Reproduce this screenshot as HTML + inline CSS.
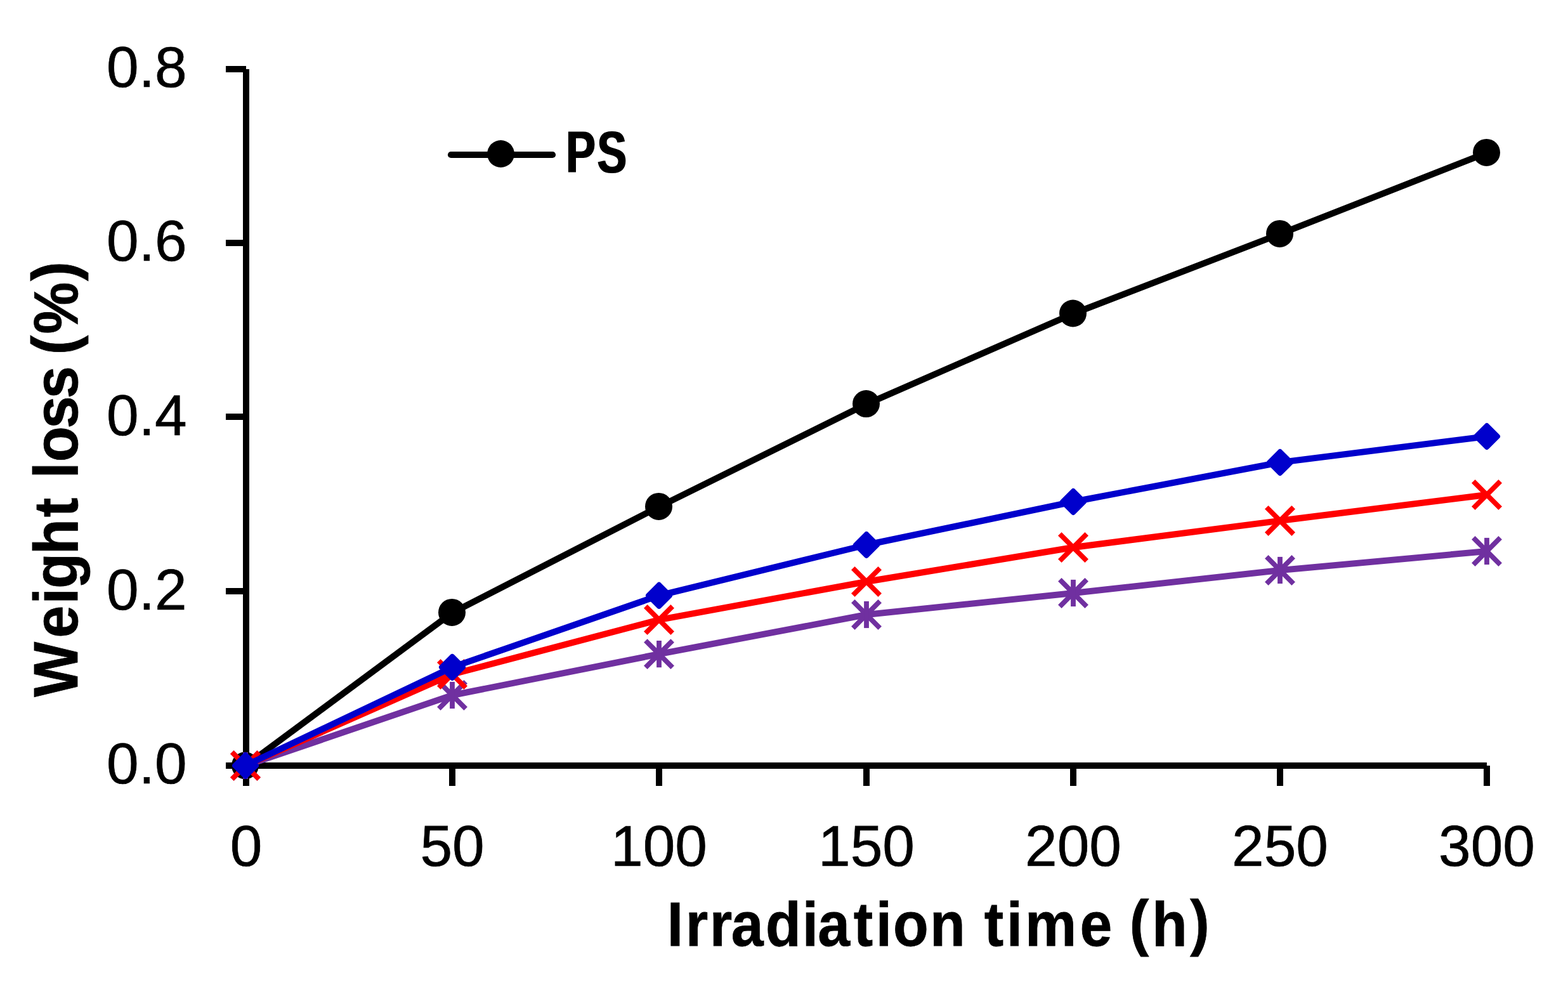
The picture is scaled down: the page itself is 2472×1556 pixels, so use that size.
<!DOCTYPE html>
<html lang="en">
<head>
<meta charset="utf-8">
<title>Weight loss vs irradiation time</title>
<style>
html,body{margin:0;padding:0;background:#fff;}
body{width:2472px;height:1556px;}
svg{display:block;}
text{font-family:"Liberation Sans",sans-serif;fill:#000;}
.tk{font-size:91px;stroke:#000;stroke-width:0.7px;}
.b{font-weight:bold;}
.ti{stroke:#000;stroke-width:0.8px;}
.ax line{stroke:#000;stroke-width:10;}
.s polyline{fill:none;stroke-width:10;stroke-linejoin:round;}
.x line{stroke-width:7.85;}
.a line{stroke-width:7.8;}
</style>
</head>
<body>
<svg width="2472" height="1556" viewBox="0 0 2472 1556" role="img" aria-label="Weight loss (%) versus irradiation time (h)">
<rect width="2472" height="1556" fill="#fff"/>
<filter id="fat" x="-10%" y="-10%" width="120%" height="120%" color-interpolation-filters="sRGB"><feMorphology operator="dilate" radius="1 0"/></filter>

<g class="ax">
<line x1="388" y1="109" x2="388" y2="1207"/>
<line x1="356" y1="1207" x2="2344" y2="1207"/>
<line x1="356" y1="109" x2="388" y2="109"/>
<line x1="356" y1="383" x2="388" y2="383"/>
<line x1="356" y1="657" x2="388" y2="657"/>
<line x1="356" y1="932" x2="388" y2="932"/>
<line x1="388" y1="1207" x2="388" y2="1239"/>
<line x1="713" y1="1207" x2="713" y2="1239"/>
<line x1="1039" y1="1207" x2="1039" y2="1239"/>
<line x1="1366" y1="1207" x2="1366" y2="1239"/>
<line x1="1692" y1="1207" x2="1692" y2="1239"/>
<line x1="2018" y1="1207" x2="2018" y2="1239"/>
<line x1="2344" y1="1207" x2="2344" y2="1239"/>
</g>
<g class="s" stroke="#000000" fill="#000000">
<polyline points="387,1207.3 713,965.95 1039,798.9 1366,637.1 1692,494.5 2018,368.9 2344,240.9"/>
<circle cx="386.5" cy="1206.8" r="21.5" stroke="none"/>
<circle cx="712.5" cy="965.45" r="21.5" stroke="none"/>
<circle cx="1038.5" cy="798.4" r="21.5" stroke="none"/>
<circle cx="1365.5" cy="636.6" r="21.5" stroke="none"/>
<circle cx="1691.5" cy="494" r="21.5" stroke="none"/>
<circle cx="2017.5" cy="368.4" r="21.5" stroke="none"/>
<circle cx="2343.5" cy="240.4" r="21.5" stroke="none"/>
</g>
<g class="s a" stroke="#7030a0" fill="#7030a0">
<polyline points="387,1207 713,1096 1039,1031.1 1366,969 1692,935 2018,899 2344,869"/>
<line x1="365.8" y1="1185.8" x2="408.2" y2="1228.2"/><line x1="365.8" y1="1228.2" x2="408.2" y2="1185.8"/><line x1="387" y1="1185.9" x2="387" y2="1228.1"/>
<line x1="691.8" y1="1074.8" x2="734.2" y2="1117.2"/><line x1="691.8" y1="1117.2" x2="734.2" y2="1074.8"/><line x1="713" y1="1074.9" x2="713" y2="1117.1"/>
<line x1="1017.8" y1="1009.9" x2="1060.2" y2="1052.3"/><line x1="1017.8" y1="1052.3" x2="1060.2" y2="1009.9"/><line x1="1039" y1="1010" x2="1039" y2="1052.2"/>
<line x1="1344.8" y1="947.8" x2="1387.2" y2="990.2"/><line x1="1344.8" y1="990.2" x2="1387.2" y2="947.8"/><line x1="1366" y1="947.9" x2="1366" y2="990.1"/>
<line x1="1670.8" y1="913.8" x2="1713.2" y2="956.2"/><line x1="1670.8" y1="956.2" x2="1713.2" y2="913.8"/><line x1="1692" y1="913.9" x2="1692" y2="956.1"/>
<line x1="1996.8" y1="877.8" x2="2039.2" y2="920.2"/><line x1="1996.8" y1="920.2" x2="2039.2" y2="877.8"/><line x1="2018" y1="877.9" x2="2018" y2="920.1"/>
<line x1="2322.8" y1="847.8" x2="2365.2" y2="890.2"/><line x1="2322.8" y1="890.2" x2="2365.2" y2="847.8"/><line x1="2344" y1="847.9" x2="2344" y2="890.1"/>
</g>
<g class="s x" stroke="#ff0000" fill="#ff0000">
<polyline points="387,1207 713,1063 1039,977.1 1366,917 1692,863 2018,820.9 2344,780"/>
<line x1="365.8" y1="1185.8" x2="408.2" y2="1228.2"/><line x1="365.8" y1="1228.2" x2="408.2" y2="1185.8"/>
<line x1="691.8" y1="1041.8" x2="734.2" y2="1084.2"/><line x1="691.8" y1="1084.2" x2="734.2" y2="1041.8"/>
<line x1="1017.8" y1="955.9" x2="1060.2" y2="998.3"/><line x1="1017.8" y1="998.3" x2="1060.2" y2="955.9"/>
<line x1="1344.8" y1="895.8" x2="1387.2" y2="938.2"/><line x1="1344.8" y1="938.2" x2="1387.2" y2="895.8"/>
<line x1="1670.8" y1="841.8" x2="1713.2" y2="884.2"/><line x1="1670.8" y1="884.2" x2="1713.2" y2="841.8"/>
<line x1="1996.8" y1="799.7" x2="2039.2" y2="842.1"/><line x1="1996.8" y1="842.1" x2="2039.2" y2="799.7"/>
<line x1="2322.8" y1="758.8" x2="2365.2" y2="801.2"/><line x1="2322.8" y1="801.2" x2="2365.2" y2="758.8"/>
</g>
<g class="s" stroke="#0000cc" fill="#0000cc">
<polyline points="387,1207 713,1051.9 1039,938.85 1366,859 1692,791 2018,729 2344,688"/>
<rect x="-16.02" y="-16.02" width="32.04" height="32.04" rx="4" stroke="none" transform="translate(387 1207) rotate(45)"/>
<rect x="-16.02" y="-16.02" width="32.04" height="32.04" rx="4" stroke="none" transform="translate(713 1051.9) rotate(45)"/>
<rect x="-16.02" y="-16.02" width="32.04" height="32.04" rx="4" stroke="none" transform="translate(1039 938.85) rotate(45)"/>
<rect x="-16.02" y="-16.02" width="32.04" height="32.04" rx="4" stroke="none" transform="translate(1366 859) rotate(45)"/>
<rect x="-16.02" y="-16.02" width="32.04" height="32.04" rx="4" stroke="none" transform="translate(1692 791) rotate(45)"/>
<rect x="-16.02" y="-16.02" width="32.04" height="32.04" rx="4" stroke="none" transform="translate(2018 729) rotate(45)"/>
<rect x="-16.02" y="-16.02" width="32.04" height="32.04" rx="4" stroke="none" transform="translate(2344 688) rotate(45)"/>
</g>
<line x1="711" y1="244" x2="871" y2="244" stroke="#000" stroke-width="10.2" stroke-linecap="round"/>
<circle cx="789.5" cy="242.5" r="21.4" fill="#000"/>
<text class="b" filter="url(#fat)" transform="translate(0,272) scale(0.76,1)" font-size="91.9" x="1173.85 1238.95">PS</text>
<text class="tk" x="168.1" y="136.55">0.8</text>
<text class="tk" x="168.1" y="410.55">0.6</text>
<text class="tk" x="168.1" y="685.55">0.4</text>
<text class="tk" x="168.1" y="960.55">0.2</text>
<text class="tk" x="168.1" y="1234.65">0.0</text>
<text class="tk" x="388" y="1364.65" text-anchor="middle">0</text>
<text class="tk" x="713" y="1364.65" text-anchor="middle">50</text>
<text class="tk" x="1039" y="1364.65" text-anchor="middle">100</text>
<text class="tk" x="1366" y="1364.65" text-anchor="middle">150</text>
<text class="tk" x="1692" y="1364.65" text-anchor="middle">200</text>
<text class="tk" x="2018" y="1364.65" text-anchor="middle">250</text>
<text class="tk" x="2344" y="1364.65" text-anchor="middle">300</text>
<text class="b ti" transform="translate(0,1490.6) scale(0.93,1)" font-size="98.2" x="1130.82 1162.09 1202.95 1239.63 1297.8 1359.91 1386.41 1447.03 1484.64 1514.05 1576.25 1636.25 1668.48 1706.09 1737.75 1830.52 1885.15 1914.82 1952.59 2017.51" y="0 0 0 0 0 0 0 0 0 0 0 0 0 0 0 0 0 -2.6 0 -2.6">Irradiation time (h)</text>
<text class="b ti" transform="translate(121.9,1100) rotate(-90) scale(0.93,1)" font-size="98.9" x="1.44 101.4 158.74 185.05 242.75 306.11 339.05 371.8 399.75 456.34 507.36 562.37 581.57 616.7 706.55" y="0 0 0 0 0 0 0 0 0 0 0 0 -2.8 0 -2.8">Weight loss (%)</text>
</svg>
</body>
</html>
